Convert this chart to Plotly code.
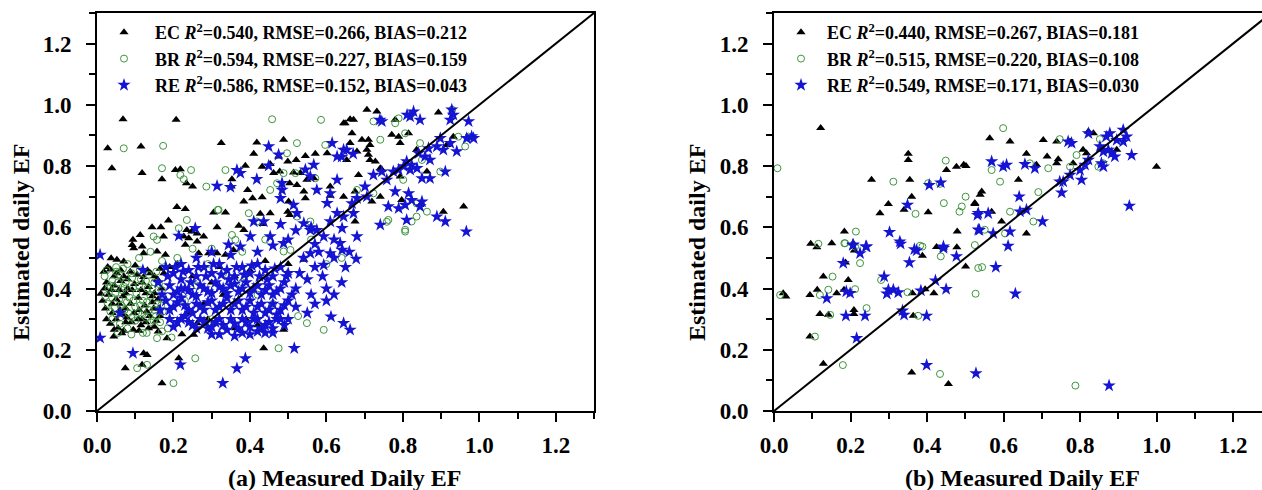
import plotly.graph_objects as go

# ---------------- data: panel (a) ----------------
ec_a = [
    (0.068,0.953),(0.207,0.951),(0.028,0.858),(0.115,0.864),(0.039,0.793),(0.118,0.777),(0.170,0.757),
    (0.205,0.787),(0.218,0.790),(0.234,0.744),(0.250,0.733),
    (0.325,0.875),(0.418,0.877),(0.488,0.886),(0.410,0.840),(0.432,0.798),(0.453,0.807),(0.388,0.801),
    (0.475,0.831),(0.499,0.815),(0.521,0.820),(0.545,0.833),(0.571,0.840),(0.602,0.842),(0.645,0.940),
    (0.478,0.782),(0.462,0.777),(0.514,0.779),(0.532,0.777),(0.549,0.755),(0.567,0.760),(0.610,0.733),
    (0.353,0.757),(0.351,0.733),(0.394,0.722),(0.407,0.695),(0.384,0.684),(0.432,0.698),(0.504,0.744),
    (0.523,0.738),(0.541,0.717),(0.545,0.695),(0.610,0.703),(0.209,0.666),(0.231,0.660),(0.305,0.648),
    (0.336,0.648),(0.453,0.646),(0.501,0.684),(0.499,0.651),(0.504,0.640),(0.427,0.644),(0.144,0.600),
    (0.167,0.600),(0.187,0.622),(0.235,0.591),(0.248,0.586),(0.262,0.580),(0.314,0.600),(0.371,0.605),
    (0.384,0.591),(0.434,0.611),(0.113,0.575),(0.094,0.559),(0.092,0.542),(0.174,0.570),(0.227,0.570),
    (0.240,0.564),(0.279,0.570),
    (0.706,0.984),(0.732,0.978),(0.662,0.953),(0.671,0.951),(0.649,0.940),(0.893,0.975),(0.667,0.907),
    (0.780,0.951),(0.693,0.886),(0.710,0.886),(0.714,0.869),(0.706,0.853),(0.710,0.837),(0.714,0.820),
    (0.662,0.875),(0.680,0.848),(0.653,0.820),(0.771,0.902),(0.789,0.896),(0.793,0.875),(0.815,0.907),
    (0.836,0.853),(0.728,0.815),(0.741,0.793),(0.745,0.788),(0.684,0.771),(0.793,0.766),(0.863,0.782),
    (0.645,0.700),(0.675,0.717),(0.741,0.700),(0.719,0.684),(0.797,0.689),(0.845,0.673),(0.906,0.651),
    (0.959,0.668),(0.675,0.619),(0.932,0.896),(0.915,0.869),
    (0.096,0.532),(0.118,0.537),(0.231,0.543),(0.262,0.554),(0.266,0.515),(0.292,0.515),(0.314,0.515),
    (0.336,0.510),(0.357,0.526),(0.122,0.515),(0.157,0.521),(0.179,0.510),(0.037,0.499),(0.052,0.494),
    (0.070,0.488),(0.541,0.494),
    (0.018,0.455),(0.035,0.462),(0.052,0.450),(0.070,0.440),(0.087,0.455),(0.105,0.445),(0.122,0.438),
    (0.140,0.450),(0.158,0.430),(0.025,0.420),(0.045,0.410),(0.062,0.425),(0.080,0.400),(0.098,0.415),
    (0.115,0.395),(0.135,0.405),(0.150,0.385),(0.168,0.400),(0.030,0.380),(0.050,0.365),(0.068,0.375),
    (0.088,0.350),(0.108,0.370),(0.125,0.345),(0.145,0.355),(0.162,0.335),(0.022,0.335),(0.040,0.320),
    (0.060,0.330),(0.078,0.305),(0.097,0.320),(0.118,0.300),(0.138,0.310),(0.155,0.295),(0.035,0.285),
    (0.055,0.270),(0.075,0.290),(0.095,0.265),(0.115,0.280),(0.135,0.270),(0.010,0.383),(0.044,0.243),
    (0.065,0.254),(0.175,0.450),(0.190,0.470),(0.210,0.480),
    (0.028,0.470),(0.045,0.440),(0.062,0.460),(0.080,0.430),(0.100,0.475),(0.118,0.420),(0.132,0.460),
    (0.150,0.440),(0.165,0.465),(0.020,0.400),(0.038,0.395),(0.058,0.395),(0.075,0.385),(0.092,0.395),
    (0.128,0.385),(0.145,0.375),(0.160,0.365),(0.015,0.360),(0.040,0.350),(0.058,0.350),(0.075,0.335),
    (0.110,0.330),(0.130,0.325),(0.148,0.335),(0.165,0.310),(0.025,0.300),(0.050,0.300),(0.068,0.315),
    (0.090,0.290),(0.108,0.300),(0.128,0.290),(0.150,0.275),(0.045,0.265),(0.070,0.262),(0.110,0.262),
    (0.160,0.260),
    (0.488,0.265),(0.436,0.205),(0.253,0.249),(0.222,0.251),(0.183,0.238),(0.122,0.189),(0.131,0.183),
    (0.118,0.151),(0.074,0.140),(0.170,0.091),(0.214,0.172),(0.362,0.270),(0.262,0.287),(0.290,0.300),
    (0.235,0.320),(0.300,0.420),(0.330,0.380),(0.280,0.350),(0.250,0.440),(0.360,0.440),(0.320,0.470),
    (0.400,0.460),(0.440,0.490),(0.500,0.480),(0.390,0.300),(0.420,0.280),
]

br_a = [
    (0.070,0.858),(0.173,0.866),(0.170,0.793),(0.218,0.771),(0.227,0.757),(0.246,0.787),(0.286,0.733),
    (0.336,0.787),(0.458,0.953),(0.586,0.951),(0.497,0.842),(0.523,0.875),(0.597,0.869),(0.488,0.777),
    (0.519,0.777),(0.471,0.744),(0.453,0.722),(0.571,0.760),(0.235,0.624),(0.214,0.597),(0.318,0.657),
    (0.148,0.570),(0.157,0.559),(0.353,0.575),(0.362,0.559),(0.397,0.646),(0.418,0.619),(0.523,0.635),
    (0.558,0.619),(0.929,0.984),(0.758,0.618),(0.806,0.592),(0.723,0.946),(0.780,0.940),
    (0.789,0.956),(0.819,0.967),(0.741,0.886),(0.845,0.875),(0.806,0.907),(0.850,0.820),(0.898,0.782),
    (0.963,0.864),(0.972,0.896),(0.945,0.896),(0.801,0.755),(0.836,0.678),(0.762,0.624),
    (0.836,0.635),(0.823,0.619),(0.863,0.651),(0.806,0.586),(0.723,0.711),(0.680,0.722),(0.200,0.091),
    (0.257,0.172),(0.105,0.140),(0.131,0.151),(0.157,0.238),(0.475,0.205),(0.593,0.265),(0.549,0.287),
    (0.526,0.310),(0.488,0.521),(0.506,0.526),(0.316,0.657),
    (0.020,0.440),(0.040,0.425),(0.058,0.445),(0.075,0.420),(0.092,0.435),(0.110,0.410),(0.128,0.425),
    (0.145,0.400),(0.162,0.415),(0.030,0.400),(0.048,0.385),(0.066,0.395),(0.085,0.370),(0.103,0.385),
    (0.120,0.360),(0.140,0.375),(0.158,0.350),(0.175,0.365),(0.028,0.350),(0.046,0.335),(0.064,0.345),
    (0.082,0.320),(0.100,0.340),(0.118,0.315),(0.136,0.330),(0.154,0.310),(0.172,0.325),(0.040,0.300),
    (0.060,0.285),(0.080,0.270),(0.100,0.295),(0.120,0.255),(0.140,0.290),(0.170,0.260),(0.195,0.240),
    (0.025,0.460),(0.050,0.455),(0.068,0.465),(0.090,0.450),(0.112,0.460),(0.135,0.445),(0.155,0.455),
    (0.035,0.410),(0.055,0.420),(0.072,0.405),(0.095,0.405),(0.115,0.430),(0.132,0.400),(0.150,0.420),
    (0.170,0.395),(0.022,0.375),(0.040,0.370),(0.058,0.365),(0.078,0.355),(0.095,0.360),(0.113,0.345),
    (0.130,0.355),(0.150,0.330),(0.168,0.345),(0.035,0.325),(0.052,0.315),(0.072,0.330),(0.090,0.305),
    (0.108,0.320),(0.128,0.305),(0.148,0.295),(0.165,0.290),(0.055,0.255),(0.090,0.250),(0.130,0.255),
    (0.185,0.270),
    (0.050,0.470),(0.080,0.480),(0.110,0.500),(0.140,0.520),(0.170,0.490),(0.210,0.500),(0.250,0.530),
    (0.290,0.480),(0.330,0.450),(0.380,0.420),(0.420,0.380),(0.460,0.350),(0.600,0.480),(0.640,0.500),
    (0.380,0.520),(0.300,0.530),(0.440,0.560),(0.560,0.560),(0.260,0.410),(0.230,0.360),(0.300,0.300),
]

re_a = [
    (0.008,0.510),(0.008,0.239),(0.094,0.189),(0.218,0.151),(0.388,0.172),(0.366,0.139),(0.329,0.091),
    (0.516,0.205),(0.612,0.308),(0.645,0.287),(0.662,0.265),(0.678,0.497),
    (0.828,0.978),(0.819,0.962),(0.845,0.951),(0.928,0.984),(0.932,0.967),(0.924,0.951),(0.972,0.946),
    (0.745,0.946),(0.898,0.891),(0.924,0.875),(0.941,0.848),(0.967,0.891),(0.980,0.897),(0.985,0.891),
    (0.867,0.858),(0.889,0.864),(0.906,0.853),(0.841,0.842),(0.871,0.820),(0.858,0.831),(0.810,0.815),
    (0.823,0.804),(0.802,0.799),(0.837,0.793),(0.819,0.788),(0.850,0.760),(0.871,0.760),(0.911,0.782),
    (0.775,0.782),(0.789,0.788),(0.780,0.717),(0.815,0.711),(0.823,0.689),(0.806,0.673),(0.789,0.662),
    (0.762,0.668),(0.850,0.684),(0.845,0.668),(0.741,0.608),(0.810,0.624),(0.889,0.635),(0.911,0.619),
    (0.966,0.586),(0.701,0.733),(0.706,0.700),(0.680,0.695),(0.667,0.678),(0.671,0.646),(0.645,0.635),
    (0.636,0.548),(0.723,0.771),(0.745,0.782),(0.758,0.755),(0.653,0.853),(0.640,0.830),(0.670,0.840),
    (0.811,0.967),(0.740,0.951),
    (0.449,0.864),(0.475,0.837),(0.366,0.787),(0.375,0.777),(0.314,0.735),(0.349,0.731),(0.449,0.801),
    (0.418,0.757),(0.484,0.744),(0.484,0.722),(0.480,0.695),(0.514,0.673),(0.523,0.646),(0.410,0.619),
    (0.436,0.619),(0.257,0.597),(0.214,0.572),(0.545,0.788),(0.567,0.804),(0.558,0.766),(0.575,0.722),
    (0.602,0.679),(0.610,0.711),(0.628,0.755),(0.615,0.875),(0.628,0.831),(0.645,0.853),(0.541,0.613),
    (0.558,0.591),(0.575,0.591),(0.610,0.619),(0.628,0.646),(0.641,0.597),(0.593,0.570),(0.401,0.570),
    (0.453,0.570),(0.488,0.548),(0.344,0.543),(0.375,0.537),
    (0.558,0.515),(0.593,0.477),(0.610,0.515),(0.641,0.526),
    (0.180,0.470),(0.200,0.450),(0.220,0.430),(0.240,0.460),(0.260,0.440),(0.280,0.470),(0.300,0.450),
    (0.320,0.480),(0.340,0.460),(0.360,0.440),(0.380,0.470),(0.400,0.450),(0.420,0.480),(0.440,0.460),
    (0.460,0.440),(0.480,0.470),(0.500,0.450),(0.190,0.410),(0.210,0.390),(0.230,0.400),(0.250,0.380),
    (0.270,0.410),(0.290,0.390),(0.310,0.420),(0.330,0.400),(0.350,0.410),(0.370,0.390),(0.390,0.420),
    (0.410,0.400),(0.430,0.380),(0.450,0.410),(0.470,0.390),(0.490,0.420),(0.520,0.400),(0.180,0.360),
    (0.200,0.340),(0.220,0.370),(0.240,0.330),(0.260,0.350),(0.280,0.330),(0.300,0.360),(0.320,0.340),
    (0.340,0.370),(0.360,0.350),(0.380,0.330),(0.400,0.360),(0.420,0.340),(0.440,0.320),(0.460,0.350),
    (0.480,0.330),(0.500,0.360),(0.190,0.300),(0.210,0.290),(0.230,0.310),(0.250,0.280),(0.270,0.300),
    (0.290,0.270),(0.310,0.290),(0.330,0.280),(0.350,0.300),(0.370,0.270),(0.390,0.290),(0.410,0.300),
    (0.430,0.270),(0.450,0.290),(0.470,0.300),(0.490,0.280),(0.320,0.250),(0.360,0.245),(0.400,0.250),
    (0.440,0.255),(0.300,0.250),(0.160,0.420),(0.170,0.380),(0.165,0.330),(0.530,0.450),(0.550,0.430),
    (0.570,0.470),(0.590,0.440),(0.540,0.500),(0.580,0.520),(0.620,0.500),(0.650,0.470),(0.600,0.400),
    (0.560,0.380),(0.640,0.420),(0.520,0.340),(0.550,0.320),(0.570,0.350),(0.600,0.360),(0.620,0.380),
    (0.350,0.510),(0.300,0.520),(0.260,0.500),(0.420,0.520),(0.460,0.540),(0.500,0.560),(0.520,0.590),
    (0.480,0.610),(0.560,0.600),(0.220,0.480),(0.120,0.460),(0.060,0.320),(0.570,0.545),(0.620,0.560),
    (0.660,0.520),(0.680,0.570),
    (0.185,0.440),(0.205,0.470),(0.225,0.455),(0.245,0.420),(0.265,0.470),(0.285,0.440),(0.305,0.480),
    (0.325,0.445),(0.345,0.430),(0.365,0.470),(0.385,0.445),(0.405,0.475),(0.425,0.440),(0.445,0.430),
    (0.465,0.465),(0.495,0.440),(0.200,0.380),(0.220,0.400),(0.240,0.395),(0.260,0.375),(0.280,0.400),
    (0.300,0.385),(0.320,0.405),(0.340,0.385),(0.360,0.415),(0.380,0.400),(0.400,0.385),(0.420,0.410),
    (0.440,0.395),(0.460,0.380),(0.480,0.400),(0.510,0.380),(0.190,0.330),(0.210,0.355),(0.230,0.345),
    (0.250,0.320),(0.270,0.340),(0.290,0.355),(0.310,0.330),(0.330,0.350),(0.350,0.330),(0.370,0.360),
    (0.390,0.340),(0.410,0.320),(0.430,0.350),(0.450,0.330),(0.470,0.315),(0.490,0.345),(0.200,0.275),
    (0.220,0.300),(0.240,0.290),(0.260,0.270),(0.280,0.290),(0.300,0.275),(0.320,0.300),(0.340,0.265),
    (0.360,0.285),(0.380,0.300),(0.400,0.275),(0.420,0.300),(0.440,0.280),(0.460,0.270),(0.480,0.300),
    (0.500,0.300),(0.380,0.255),(0.420,0.260),(0.460,0.255),
]

# ---------------- data: panel (b) ----------------
ec_b = [
    (0.122,0.924),(0.351,0.840),(0.351,0.820),(0.255,0.755),(0.355,0.755),(0.360,0.700),(0.299,0.676),
    (0.277,0.646),(0.340,0.657),(0.403,0.649),(0.451,0.787),(0.477,0.798),(0.502,0.800),(0.525,0.676),
    (0.539,0.706),(0.479,0.586),(0.425,0.536),(0.443,0.534),(0.478,0.535),(0.184,0.586),(0.151,0.548),
    (0.096,0.546),(0.112,0.535),
    (0.822,0.913),(0.835,0.907),(0.564,0.891),(0.617,0.880),(0.704,0.885),(0.739,0.880),(0.774,0.880),
    (0.660,0.840),(0.714,0.831),(0.743,0.822),(1.000,0.798),(0.496,0.804),(0.639,0.755),(0.543,0.717),
    (0.525,0.679),(0.569,0.651),(0.595,0.619),(0.660,0.580),(0.808,0.853),(0.817,0.842),(0.686,0.804),
    (0.739,0.809),(0.782,0.809),(0.896,0.853),(0.887,0.837),
    (0.187,0.485),(0.129,0.439),(0.194,0.428),(0.094,0.379),(0.113,0.396),(0.164,0.385),(0.183,0.396),
    (0.209,0.330),(0.209,0.317),(0.120,0.317),(0.142,0.314),(0.024,0.385),(0.031,0.374),(0.094,0.243),
    (0.129,0.154),(0.360,0.126),(0.456,0.088),(0.364,0.311),(0.362,0.385),(0.388,0.507),(0.395,0.398),
    (0.418,0.385),(0.501,0.472),(0.210,0.524),(0.207,0.548),
]

br_b = [
    (0.009,0.793),(0.449,0.818),(0.312,0.749),(0.370,0.644),(0.444,0.679),(0.485,0.651),(0.491,0.668),
    (0.501,0.700),(0.403,0.744),(0.434,0.742),(0.214,0.586),(0.184,0.548),(0.212,0.537),(0.116,0.546),
    (0.382,0.540),(0.525,0.542),
    (0.599,0.924),(0.747,0.888),(0.852,0.888),(0.791,0.836),(0.669,0.809),(0.717,0.793),(0.848,0.798),
    (0.861,0.809),(0.774,0.798),(0.569,0.787),(0.591,0.749),(0.691,0.715),(0.617,0.651),
    (0.678,0.619),(0.551,0.592),(0.604,0.580),
    (0.016,0.379),(0.107,0.243),(0.142,0.396),(0.153,0.439),(0.120,0.379),(0.147,0.314),(0.180,0.150),
    (0.186,0.548),(0.212,0.398),(0.242,0.336),(0.225,0.483),(0.280,0.428),(0.349,0.388),(0.377,0.311),
    (0.388,0.537),(0.436,0.505),(0.434,0.121),(0.527,0.383),(0.534,0.467),(0.544,0.470),(0.788,0.083),
]

re_b = [
    (0.406,0.738),(0.436,0.746),(0.349,0.673),(0.302,0.584),(0.329,0.553),(0.206,0.542),(0.242,0.537),
    (0.367,0.528),(0.443,0.537),(0.532,0.640),(0.537,0.591),
    (0.769,0.880),(0.778,0.875),(0.822,0.907),(0.869,0.896),(0.878,0.907),(0.896,0.885),(0.913,0.918),
    (0.922,0.896),(0.913,0.880),(0.852,0.864),(0.861,0.847),(0.874,0.853),(0.883,0.842),(0.822,0.820),
    (0.813,0.804),(0.856,0.809),(0.861,0.798),(0.891,0.831),(0.935,0.836),(0.800,0.787),(0.774,0.771),
    (0.747,0.749),(0.756,0.749),(0.804,0.755),(0.752,0.713),(0.569,0.815),(0.599,0.798),(0.608,0.804),
    (0.656,0.806),(0.682,0.793),(0.641,0.700),(0.643,0.651),(0.660,0.657),(0.534,0.646),(0.560,0.646),
    (0.702,0.619),(0.534,0.592),(0.573,0.580),(0.617,0.586),(0.612,0.539),(0.929,0.670),
    (0.207,0.543),(0.225,0.515),(0.240,0.537),(0.181,0.483),(0.138,0.368),(0.288,0.439),(0.299,0.396),
    (0.295,0.383),(0.325,0.387),(0.312,0.396),(0.199,0.385),(0.189,0.390),(0.188,0.311),(0.238,0.311),
    (0.216,0.238),(0.336,0.328),(0.340,0.314),(0.331,0.546),(0.354,0.485),(0.373,0.524),(0.443,0.532),
    (0.477,0.505),(0.399,0.311),(0.384,0.393),(0.422,0.426),(0.450,0.398),(0.399,0.150),(0.528,0.123),
    (0.580,0.470),(0.631,0.383),(0.876,0.083),
]

one_to_one = [0.0, 1.3]

labels_a = ["EC <i>R</i><sup>2</sup>=0.540, RMSE=0.266, BIAS=0.212",
            "BR <i>R</i><sup>2</sup>=0.594, RMSE=0.227, BIAS=0.159",
            "RE <i>R</i><sup>2</sup>=0.586, RMSE=0.152, BIAS=0.043"]
labels_b = ["EC <i>R</i><sup>2</sup>=0.440, RMSE=0.267, BIAS=0.181",
            "BR <i>R</i><sup>2</sup>=0.515, RMSE=0.220, BIAS=0.108",
            "RE <i>R</i><sup>2</sup>=0.549, RMSE=0.171, BIAS=0.030"]

tick_vals = [0.0, 0.2, 0.4, 0.6, 0.8, 1.0, 1.2]
tick_text = ["0.0", "0.2", "0.4", "0.6", "0.8", "1.0", "1.2"]

FONT = "Liberation Serif"
GREEN = "#3c963c"
BLUE = "#1414d2"

styles = [
    dict(symbol="triangle-up", size=8, color="black"),
    dict(symbol="circle-open", size=7, color=GREEN, line=dict(width=1, color=GREEN)),
    dict(symbol="star", size=10, color=BLUE),
]

fig = go.Figure()

def add_panel(series, labels, xa, ya, legend):
    for pts, lab, st in zip(series, labels, styles):
        xs = [p[0] for p in pts]
        ys = [p[1] for p in pts]
        fig.add_trace(go.Scatter(x=xs, y=ys, mode="markers", name=lab, marker=st,
                                 xaxis=xa, yaxis=ya, legend=legend))
    fig.add_trace(go.Scatter(x=one_to_one, y=one_to_one, mode="lines",
                             line=dict(color="black", width=2), showlegend=False,
                             xaxis=xa, yaxis=ya, hoverinfo="skip"))

add_panel([ec_a, br_a, re_a], labels_a, "x", "y", "legend")
add_panel([ec_b, br_b, re_b], labels_b, "x2", "y2", "legend2")

W, H = 1262, 490
tickfont = dict(family=FONT, size=23, color="black", weight="bold")

def axis(domain, rng, mirror, anchor, standoff):
    return dict(domain=domain, range=rng, anchor=anchor, showgrid=False, zeroline=False,
                automargin=False,
                showline=True, linecolor="black", linewidth=2, mirror=mirror,
                ticks="outside", ticklen=9, tickwidth=2, tickcolor="black",
                tickvals=tick_vals, ticktext=["<b>%s</b>" % t for t in tick_text], tickfont=tickfont,
                ticklabelstandoff=standoff,
                minor=dict(dtick=0.1, tick0=0, ticks="outside", ticklen=6, tickwidth=2,
                           tickcolor="black", showgrid=False))

ydom = [1 - 411 / H, 1 - 13 / H]
fig.update_layout(
    width=W, height=H, margin=dict(l=0, r=0, t=0, b=0, pad=0, autoexpand=False),
    paper_bgcolor="white", plot_bgcolor="white",
    xaxis=axis([97 / W, 594 / W], [0, 1.3], True, "y", 3),
    yaxis=axis(ydom, [0, 1.3], True, "x", 10),
    xaxis2=axis([774 / W, 1.0], [0, 488 / 382.5], True, "y2", 3),
    yaxis2=axis(ydom, [0, 1.3], False, "x2", 10),
    legend=dict(x=93 / W, y=1 - 14 / H, xanchor="left", yanchor="top", bgcolor="rgba(0,0,0,0)",
                itemwidth=52, font=dict(family=FONT, size=18, color="black", weight="bold")),
    legend2=dict(x=775 / W, y=1 - 14 / H, xanchor="left", yanchor="top", bgcolor="rgba(0,0,0,0)",
                 itemwidth=42, font=dict(family=FONT, size=18, color="black", weight="bold")),
    showlegend=True,
)

titlefont = dict(family=FONT, size=24, color="black", weight="bold")
fig.add_annotation(text="<b>(a) Measured Daily EF</b>", x=345 / W, y=1 - 478 / H, xref="paper", yref="paper",
                   showarrow=False, font=titlefont, xanchor="center", yanchor="middle")
fig.add_annotation(text="<b>(b) Measured Daily EF</b>", x=1022 / W, y=1 - 478 / H, xref="paper", yref="paper",
                   showarrow=False, font=titlefont, xanchor="center", yanchor="middle")
fig.add_annotation(text="<b>Estimated daily EF</b>", x=21 / W, y=1 - 243 / H, xref="paper", yref="paper",
                   showarrow=False, font=titlefont, textangle=-90, xanchor="center", yanchor="middle")
fig.add_annotation(text="<b>Estimated daily EF</b>", x=697 / W, y=1 - 243 / H, xref="paper", yref="paper",
                   showarrow=False, font=titlefont, textangle=-90, xanchor="center", yanchor="middle")

fig.write_html("out.html")
